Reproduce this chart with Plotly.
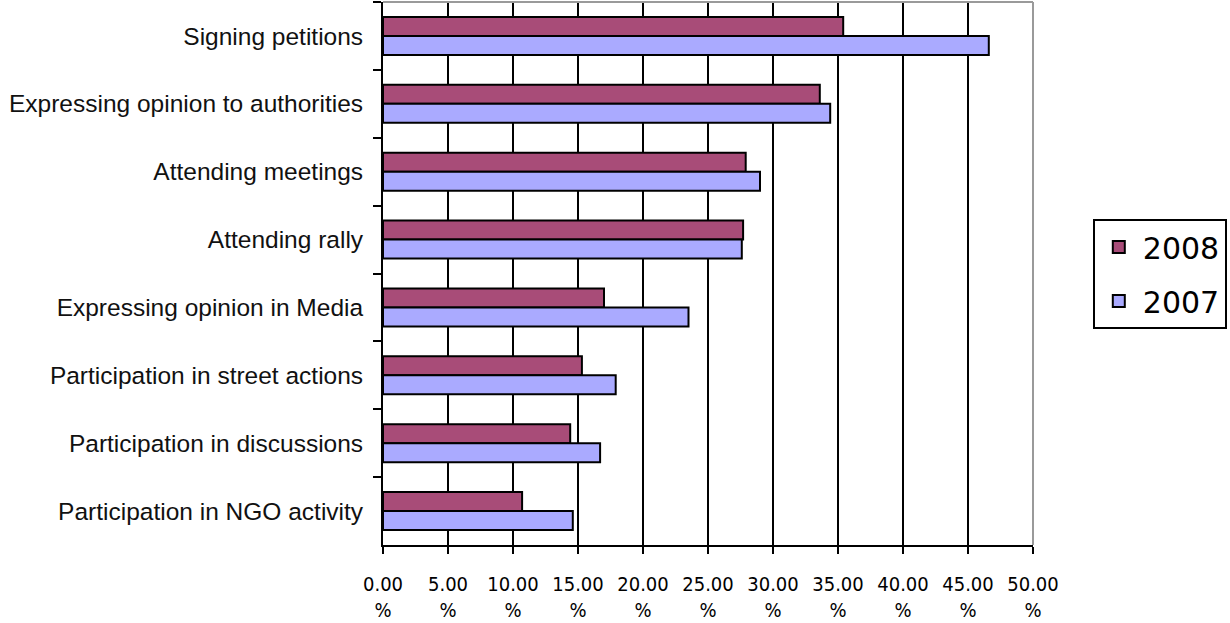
import plotly.graph_objects as go

# Forms of civic participation, share of respondents (%)
activities = [
    "Signing petitions",
    "Expressing opinion to authorities",
    "Attending meetings",
    "Attending rally",
    "Expressing opinion in Media",
    "Participation in street actions",
    "Participation in discussions",
    "Participation in NGO activity",
]
values_2008 = [35.4, 33.6, 27.9, 27.7, 17.0, 15.3, 14.4, 10.7]
values_2007 = [46.6, 34.4, 29.0, 27.6, 23.5, 17.9, 16.7, 14.6]

tick_vals = [0, 5, 10, 15, 20, 25, 30, 35, 40, 45, 50]
tick_text = [f"{v:.2f}<br>%" for v in tick_vals]

fig = go.Figure()
fig.add_trace(go.Bar(
    y=activities, x=values_2008, name="2008", orientation="h", legendgroup="a",
    marker=dict(color="#A84C78", line=dict(color="black", width=2)),
))
fig.add_trace(go.Bar(
    y=activities, x=values_2007, name="2007", orientation="h", legendgroup="b",
    marker=dict(color="#AAAAFF", line=dict(color="black", width=2)),
))

fig.update_layout(
    width=1230, height=623,
    margin=dict(l=383, r=197, t=2, b=78),
    paper_bgcolor="white", plot_bgcolor="white",
    barmode="group", bargap=0.44, bargroupgap=0,
    showlegend=True,
    legend=dict(
        x=1.092, y=0.499, xanchor="left", yanchor="middle",
        bgcolor="white", bordercolor="black", borderwidth=2,
        font=dict(family="DejaVu Sans", size=30, color="black"),
        traceorder="grouped", tracegroupgap=12, itemwidth=38,
    ),
    xaxis=dict(
        range=[0, 50], tickvals=tick_vals, ticktext=tick_text,
        showgrid=True, gridcolor="black", gridwidth=2,
        showline=True, linecolor="black", linewidth=2,
        ticks="outside", ticklen=7, tickcolor="black", tickwidth=2,
        tickfont=dict(family="DejaVu Sans Condensed", size=20, color="black"),
        ticklabelstandoff=13,
        zeroline=False, fixedrange=True,
    ),
    yaxis=dict(
        autorange="reversed", type="category",
        showline=True, linecolor="black", linewidth=2,
        ticks="outside", ticklen=8, tickcolor="black", tickwidth=2,
        tickson="boundaries", showgrid=False,
        tickfont=dict(family="Liberation Sans, Arial", size=24.5, color="#111111"),
        ticklabelstandoff=13,
    ),
    shapes=[
        dict(type="line", xref="paper", yref="paper", x0=0, x1=1, y0=1, y1=1,
             line=dict(color="#9a9a9a", width=2), layer="above"),
        dict(type="line", xref="paper", yref="paper", x0=1, x1=1, y0=0, y1=1,
             line=dict(color="#9a9a9a", width=2), layer="above"),
    ],
)

fig.write_html("out.html")
